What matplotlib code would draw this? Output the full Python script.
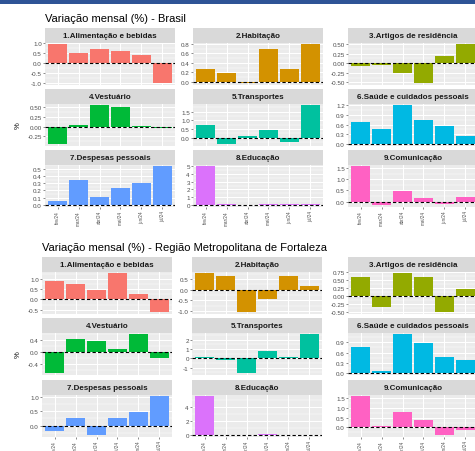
import matplotlib
matplotlib.use("Agg")
import matplotlib.pyplot as plt
from matplotlib.patches import Rectangle

plt.rcParams["font.family"] = ["Liberation Sans", "DejaVu Sans"]

W, H = 475, 452

months = ["fev/24", "mar/24", "abr/24", "mai/24", "jun/24", "jul/24"]
groups = ["1.Alimentação e bebidas", "2.Habitação", "3.Artigos de residência",
          "4.Vestuário", "5.Transportes", "6.Saúde e cuidados pessoais",
          "7.Despesas pessoais", "8.Educação", "9.Comunicação"]
group_colors = ["#F8766D", "#D39200", "#93AA00", "#00BA38", "#00C19F",
                "#00B9E3", "#619CFF", "#DB72FB", "#FF61C3"]

# Brasil - variação mensal (%)
br_alimentacao = [0.95, 0.53, 0.70, 0.62, 0.44, -1.00]
br_habitacao = [0.27, 0.19, -0.03, 0.69, 0.27, 0.79]
br_artigos = [-0.07, -0.05, -0.25, -0.52, 0.20, 0.49]
br_vestuario = [-0.45, 0.04, 0.55, 0.52, 0.03, -0.03]
br_transportes = [0.71, -0.36, 0.12, 0.47, -0.22, 1.86]
br_saude = [0.67, 0.46, 1.19, 0.74, 0.56, 0.24]
br_despesas = [0.05, 0.34, 0.105, 0.23, 0.30, 0.53]
br_educacao = [4.95, 0.18, 0.07, 0.16, 0.08, 0.14]
br_comunicacao = [1.59, -0.16, 0.48, 0.16, -0.13, 0.20]

# Região Metropolitana de Fortaleza - variação mensal (%)
fo_alimentacao = [0.92, 0.77, 0.48, 1.27, 0.27, -0.62]
fo_habitacao = [0.76, 0.65, -1.05, -0.45, 0.65, 0.16]
fo_artigos = [0.61, -0.33, 0.71, 0.61, -0.50, 0.23]
fo_vestuario = [-0.69, 0.45, 0.37, 0.11, 0.59, -0.19]
fo_transportes = [0.11, -0.22, -1.60, 0.78, 0.19, 2.59]
fo_saude = [0.75, 0.07, 1.13, 0.89, 0.475, 0.37]
fo_despesas = [-0.20, 0.25, -0.33, 0.25, 0.47, 1.01]
fo_educacao = [5.46, 0.03, 0.03, 0.15, 0.04, 0.04]
fo_comunicacao = [1.58, 0.05, 0.79, 0.39, -0.39, -0.14]

# y-axis tick labels per facet
br_ticks = [
    ["-1.0", "-0.5", "0.0", "0.5", "1.0"],
    ["0.0", "0.2", "0.4", "0.6", "0.8"],
    ["-0.50", "-0.25", "0.00", "0.25", "0.50"],
    ["-0.25", "0.00", "0.25", "0.50"],
    ["0.0", "0.5", "1.0", "1.5"],
    ["0.0", "0.3", "0.6", "0.9", "1.2"],
    ["0.0", "0.1", "0.2", "0.3", "0.4", "0.5"],
    ["0", "1", "2", "3", "4", "5"],
    ["0.0", "0.5", "1.0", "1.5"],
]
fo_ticks = [
    ["-0.5", "0.0", "0.5", "1.0"],
    ["-1.0", "-0.5", "0.0", "0.5"],
    ["-0.50", "-0.25", "0.00", "0.25", "0.50", "0.75"],
    ["-0.4", "0.0", "0.4"],
    ["-1", "0", "1", "2"],
    ["0.0", "0.3", "0.6", "0.9"],
    ["0.0", "0.5", "1.0"],
    ["0", "2", "4"],
    ["0.0", "0.5", "1.0", "1.5"],
]

br_series = [br_alimentacao, br_habitacao, br_artigos, br_vestuario, br_transportes,
             br_saude, br_despesas, br_educacao, br_comunicacao]
fo_series = [fo_alimentacao, fo_habitacao, fo_artigos, fo_vestuario, fo_transportes,
             fo_saude, fo_despesas, fo_educacao, fo_comunicacao]

fig = plt.figure(figsize=(W / 100, H / 100), dpi=100)
fig.patch.set_facecolor("white")

# blue header band
fig.patches.append(Rectangle((0, 1 - 5 / H), 1, 5 / H, transform=fig.transFigure,
                             facecolor="#2E5496", edgecolor="none"))


def px_axes(left, top, width, height):
    return fig.add_axes([left / W, 1 - (top + height) / H, width / W, height / H])


def draw_block(title, title_xy, series, ticks, col_lefts, strip_tops, pct_y):
    col_w = 130
    strip_h = 14.5
    panel_h = 42.5
    fig.text(title_xy[0] / W, 1 - title_xy[1] / H, title, fontsize=8,
             ha="left", va="center", color="black")
    fig.text(18 / W, 1 - pct_y / H, "%", rotation=90, fontsize=5.5,
             ha="center", va="center", color="black")
    x = list(range(1, len(months) + 1))
    for i, (vals, tl) in enumerate(zip(series, ticks)):
        r, c = divmod(i, 3)
        left = col_lefts[c]
        top = strip_tops[r]
        # strip
        sax = px_axes(left, top, col_w, strip_h)
        sax.set_facecolor("#D9D9D9")
        sax.set_xticks([]); sax.set_yticks([])
        for s in sax.spines.values():
            s.set_visible(False)
        sax.text(0.5, 0.48, groups[i], transform=sax.transAxes, ha="center",
                 va="center", fontsize=5.8, fontweight="bold", color="#1A1A1A")
        # panel
        ax = px_axes(left, top + strip_h, col_w, panel_h)
        ax.set_facecolor("#EBEBEB")
        for s in ax.spines.values():
            s.set_visible(False)
        lo = min(0, min(vals)); hi = max(0, max(vals))
        pad = 0.05 * (hi - lo)
        ylo, yhi = lo - pad, hi + pad
        ax.set_xlim(0.4, len(months) + 0.6)
        ax.set_ylim(ylo, yhi)
        tv = [float(t) for t in tl]
        step = tv[1] - tv[0]
        minors = [t + step / 2 for t in tv[:-1]]
        for extra in (tv[0] - step / 2, tv[-1] + step / 2):
            if ylo <= extra <= yhi:
                minors.append(extra)
        for m in minors:
            ax.axhline(m, color="white", lw=0.35, zorder=0.5)
        for t in tv:
            ax.axhline(t, color="white", lw=0.75, zorder=0.6)
        for xx in x:
            ax.axvline(xx, color="white", lw=0.75, zorder=0.6)
        ax.bar(x, vals, width=0.9, color=group_colors[i], zorder=2)
        ax.axhline(0, color="black", lw=0.8, ls=(0, (3, 2)), zorder=3)
        ax.set_yticks(tv)
        ax.set_yticklabels(tl)
        ax.tick_params(axis="y", labelsize=4.5, labelcolor="#4D4D4D", length=1.3,
                       width=0.4, color="#333333", pad=1)
        if r == 2:
            ax.set_xticks(x)
            ax.set_xticklabels(months, rotation=90, va="top", ha="center")
            ax.tick_params(axis="x", labelsize=3.3, labelcolor="#4D4D4D", length=1.3,
                           width=0.4, color="#333333", pad=1)
        else:
            ax.set_xticks([])


draw_block("Variação mensal (%) - Brasil", (45, 19), br_series, br_ticks,
           [45, 193, 348], [29, 90, 151], 126)
draw_block("Variação mensal (%) - Região Metropolitana de Fortaleza", (42, 248),
           fo_series, fo_ticks, [42, 192, 348], [258, 319, 381], 355)

fig.savefig("out.png", dpi=100, facecolor="white")
